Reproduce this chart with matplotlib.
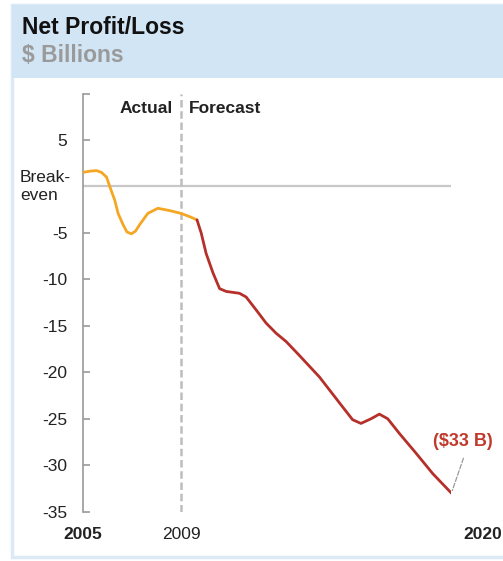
import matplotlib.pyplot as plt
import matplotlib.transforms as mtransforms
from matplotlib.patches import Rectangle

# Net profit/loss, $ billions
actual_years = [2005.0, 2005.3, 2005.57, 2005.77, 2005.97, 2006.1, 2006.3, 2006.44,
                2006.64, 2006.8, 2006.98, 2007.15, 2007.32, 2007.65, 2008.06,
                2008.54, 2009.0, 2009.35, 2009.65]
actual_vals = [1.5, 1.65, 1.7, 1.5, 1.0, 0.0, -1.45, -2.9,
               -4.1, -4.9, -5.1, -4.8, -4.1, -2.9, -2.35,
               -2.6, -2.9, -3.25, -3.6]

forecast_years = [2009.65, 2009.82, 2010.02, 2010.3, 2010.57, 2010.84, 2011.38,
                  2011.65, 2012.06, 2012.46, 2012.87, 2013.28, 2013.82, 2014.63,
                  2015.45, 2015.98, 2016.32, 2016.73, 2017.07, 2017.41, 2017.89,
                  2018.56, 2019.24, 2020.0]
forecast_vals = [-3.6, -5.0, -7.2, -9.3, -11.0, -11.3, -11.5,
                 -11.9, -13.3, -14.7, -15.8, -16.7, -18.2, -20.5,
                 -23.3, -25.1, -25.5, -25.0, -24.5, -25.0, -26.6,
                 -28.7, -30.9, -33.0]

yticks = [10, 5, -5, -10, -15, -20, -25, -30, -35]
ytick_labels = ["", "5", "-5", "-10", "-15", "-20", "-25", "-30", "-35"]
split_year = 2009
end_label = "($33 B)"

W, H = 503, 561
plt.rcParams['font.family'] = ['Liberation Sans', 'DejaVu Sans']
fig = plt.figure(figsize=(W / 100, H / 100), dpi=100)

# panel frame and header band
fig.patches.append(Rectangle((12 / W, 1 - 557 / H), 520 / W, 552 / H,
                             transform=fig.transFigure, facecolor='white',
                             edgecolor='#dce9f6', lw=2.5, zorder=-2))
fig.patches.append(Rectangle((12 / W, 1 - 78 / H), 520 / W, 73 / H,
                             transform=fig.transFigure, facecolor='#d2e5f5',
                             edgecolor='none', zorder=-1))
fig.text(22 / W, 1 - 28 / H, "Net Profit/Loss", fontsize=16.5, fontweight='bold',
         color='#111111', va='center')
fig.text(22 / W, 1 - 55 / H, "$ Billions", fontsize=16.5, fontweight='bold',
         color='#9a9a9a', va='center')

ax = fig.add_axes([82.7 / W, 1 - 511.7 / H, (451.4 - 82.7) / W, (511.7 - 93.5) / H])
ax.set_xlim(2005, 2020)
ax.set_ylim(-35, 10)
ax.patch.set_alpha(0)
for s in ['top', 'right', 'bottom']:
    ax.spines[s].set_visible(False)
ax.spines['left'].set_color('#999999')
ax.spines['left'].set_linewidth(1.2)

fs = 12.5
ax.set_yticks(yticks)
ax.set_yticklabels(ytick_labels)
ax.tick_params(axis='y', direction='in', length=5, width=1.2, color='#999999',
               pad=11, labelsize=fs, labelcolor='#222222')
ax.set_xticks([2005, 2009])
ax.set_xticklabels(["2005", "2009"])
ax.tick_params(axis='x', length=0, pad=11, labelsize=fs, labelcolor='#222222')
ax.get_xticklabels()[0].set_fontweight('bold')

# break-even line and actual/forecast divider
ax.plot([2005, 2020], [0, 0], color='#c8c8c8', lw=1.6, zorder=1)
ax.plot([split_year, split_year], [-35, 10], color='#bdbdbd', lw=1.8,
        ls=(0, (3, 1.5)), zorder=1)
ax.text(split_year - 0.35, 8.4, "Actual", ha='right', va='center',
        fontsize=fs, fontweight='bold', color='#222222')
ax.text(split_year + 0.3, 8.4, "Forecast", ha='left', va='center',
        fontsize=fs, fontweight='bold', color='#222222')

lbl = mtransforms.blended_transform_factory(fig.transFigure, ax.transData)
ax.text(20 / W, 0, "Break-\neven", transform=lbl, ha='left', va='center',
        fontsize=fs, color='#222222', linespacing=1.25)

ax.plot(actual_years, actual_vals, color='#f5a623', lw=2, zorder=3,
        solid_capstyle='round', solid_joinstyle='round')
ax.plot(forecast_years, forecast_vals, color='#b5302a', lw=2, zorder=3,
        solid_capstyle='round', solid_joinstyle='round')

ax.annotate(end_label, xy=(forecast_years[-1], forecast_vals[-1]),
            xytext=(-13, 37), textcoords='offset points', ha='left', va='center',
            fontsize=13, fontweight='bold', color='#c0392b',
            arrowprops=dict(arrowstyle='-', color='#999999', lw=0.9, ls='--',
                            relpos=(0.55, 0), shrinkA=4, shrinkB=2),
            annotation_clip=False)
ax.annotate("2020", xy=(2020, -35), xytext=(22.5, -11), textcoords='offset points',
            ha='center', va='top', fontsize=fs, fontweight='bold', color='#222222',
            annotation_clip=False)

fig.savefig("out.png", dpi=100)
